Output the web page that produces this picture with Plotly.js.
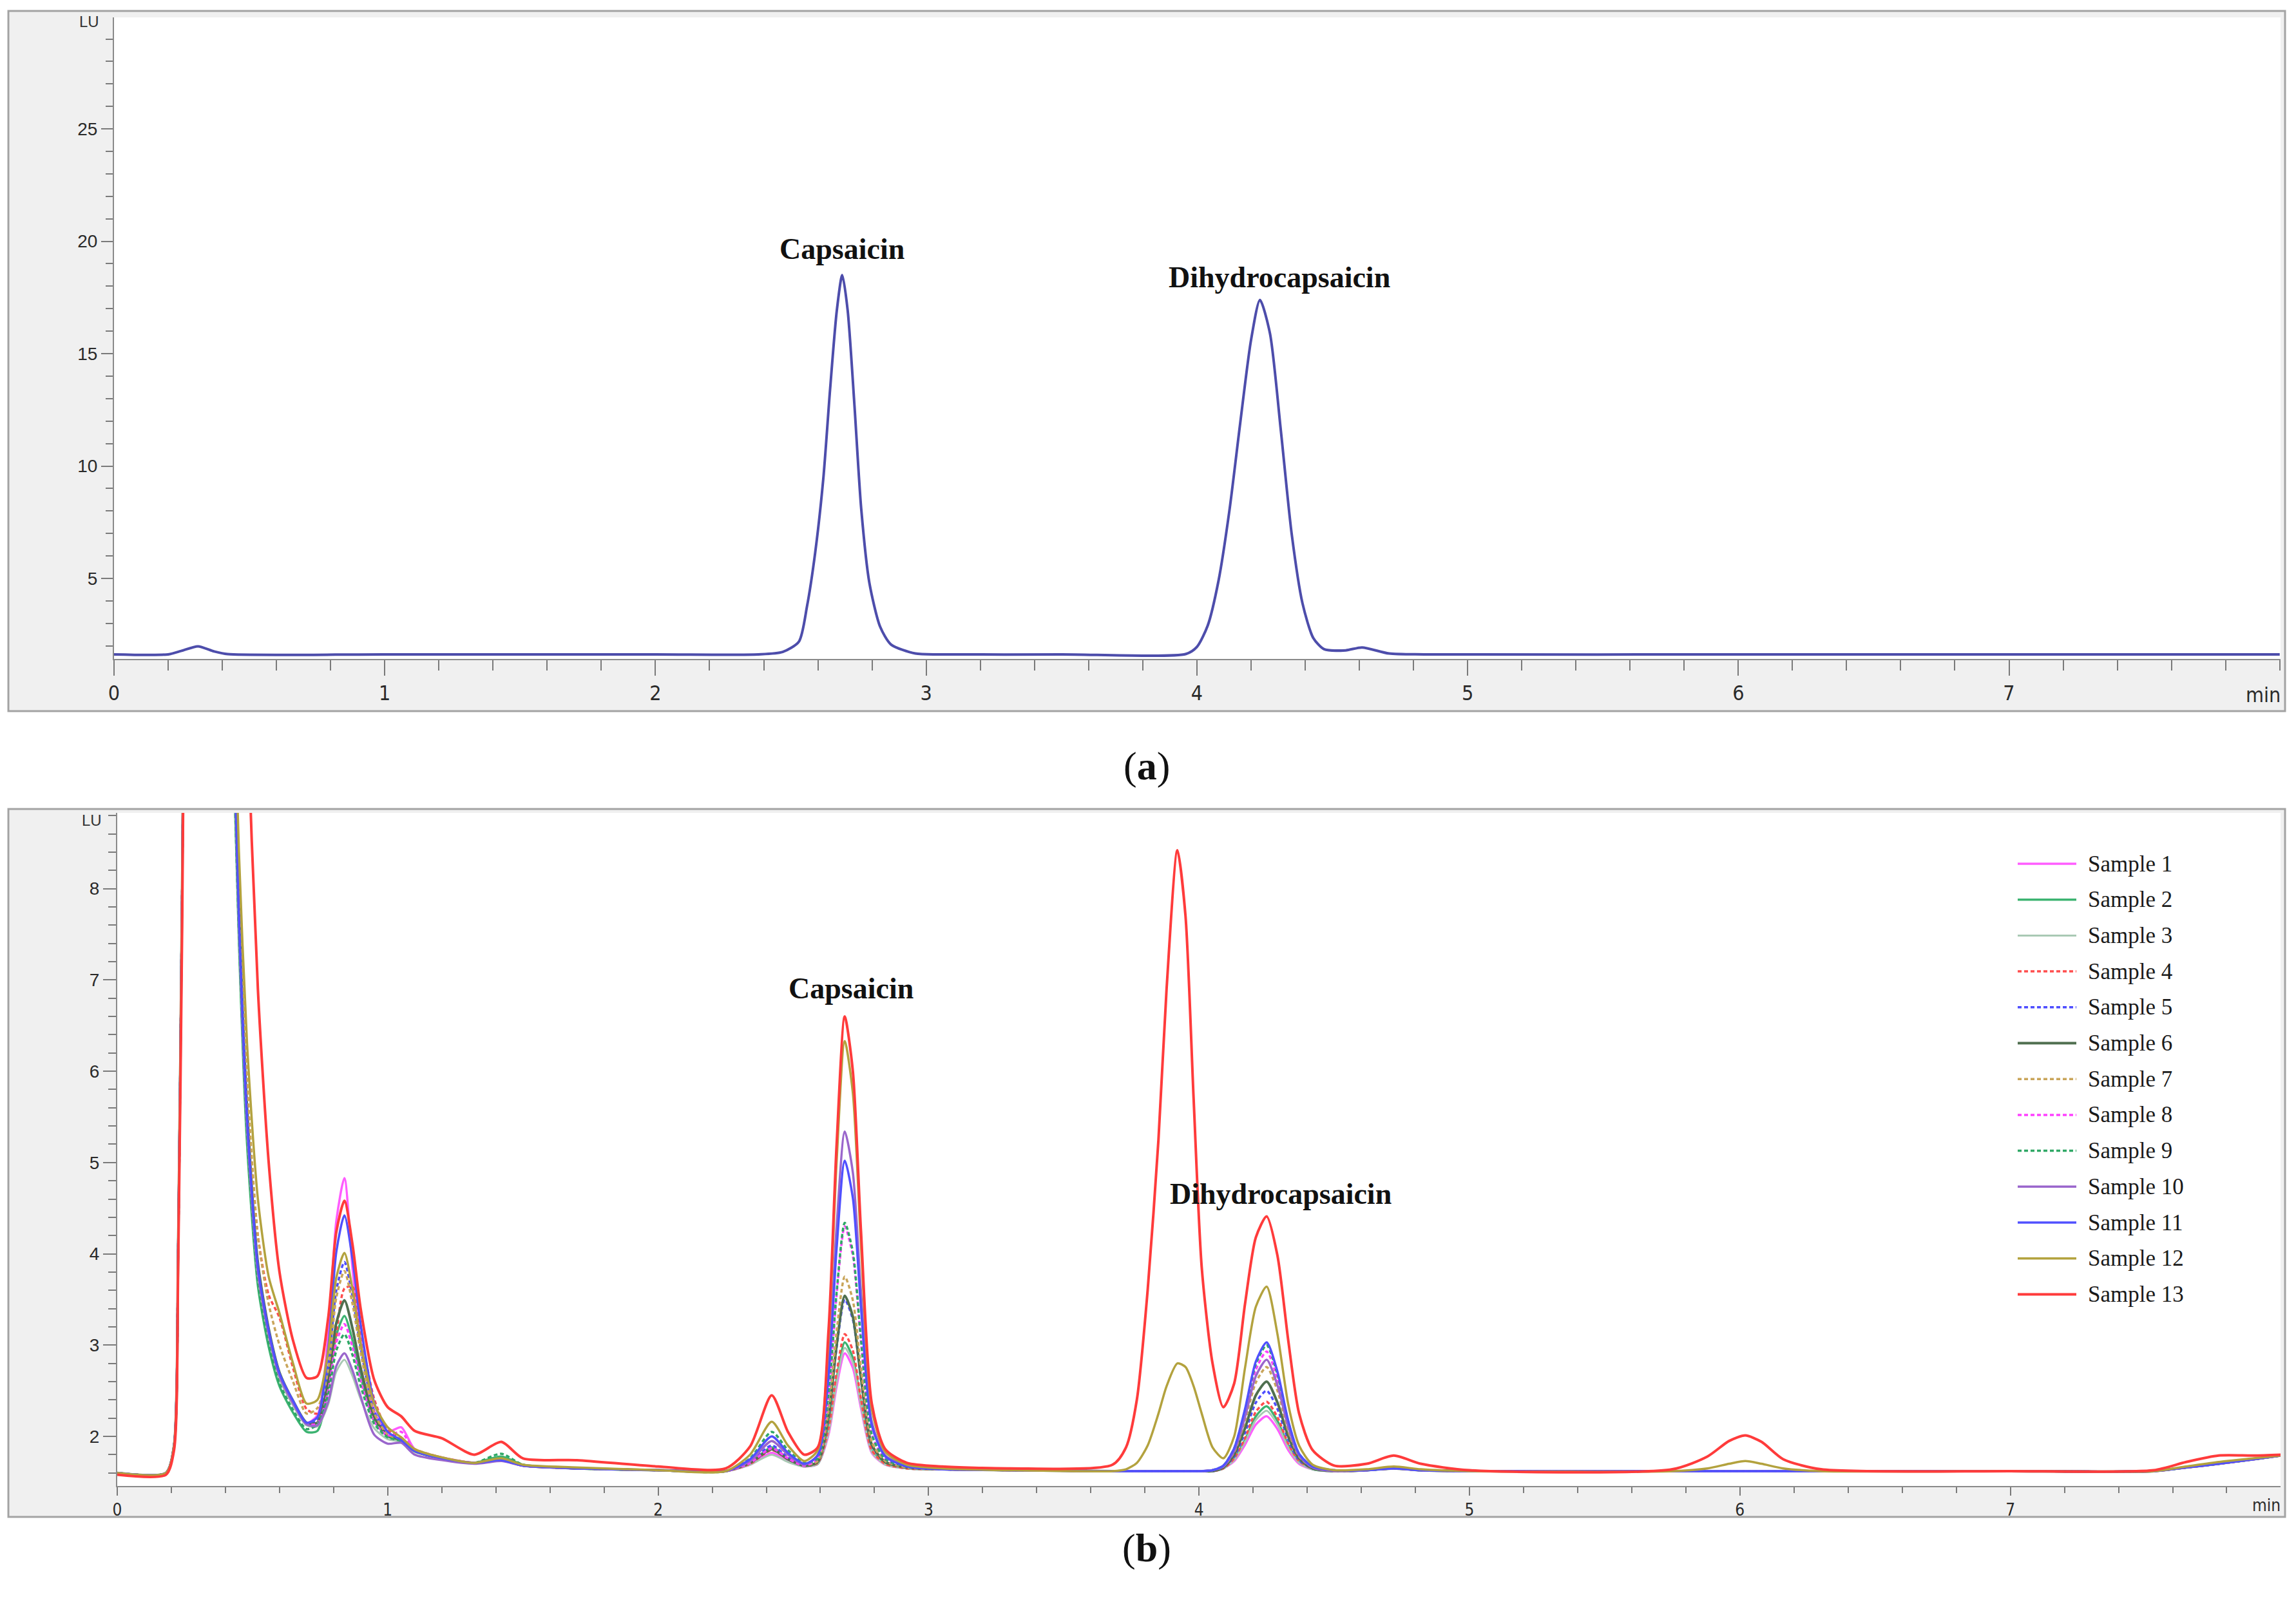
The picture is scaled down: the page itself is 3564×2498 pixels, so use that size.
<!DOCTYPE html>
<html><head><meta charset="utf-8">
<script src="https://cdn.plot.ly/plotly-3.0.1.min.js"></script>
<style>html,body{margin:0;padding:0;background:#fff;} #chart{width:3564px;height:2498px;}</style>
</head><body><div id="chart"></div>
<script>
// ================= DATA =================
// Panel (a): standard chromatogram
const timeA = [0, 0.20, 0.25, 0.31, 0.37, 0.42, 1.0, 2.0, 2.38, 2.47, 2.53, 2.56, 2.59, 2.62, 2.645, 2.67, 2.69, 2.71, 2.735, 2.76, 2.79, 2.83, 2.87, 2.96, 3.05, 3.5,
  3.96, 4.00, 4.04, 4.08, 4.12, 4.16, 4.20, 4.233, 4.27, 4.31, 4.35, 4.39, 4.43, 4.47, 4.55, 4.61, 4.71, 4.84, 6.0, 8.0];
const signalA = [1.62, 1.62, 1.78, 1.98, 1.75, 1.63, 1.62, 1.62, 1.62, 1.73, 2.19, 3.77, 6.14, 9.43, 13.4, 16.93, 18.5, 16.93, 12.72, 8.11, 4.82, 2.85, 2.06, 1.66, 1.62, 1.62,
  1.64, 1.95, 2.9, 4.9, 8.0, 11.9, 15.6, 17.39, 15.9, 11.6, 7.0, 3.9, 2.35, 1.85, 1.80, 1.93, 1.66, 1.62, 1.62, 1.62];

// Panel (b): samples (shared time axis)
const timeB = [0.00, 0.18, 0.21, 0.225, 0.24, 0.26, 0.33,
  0.42, 0.45, 0.48, 0.52, 0.56, 0.60, 0.65, 0.70,
  0.74, 0.78, 0.81, 0.84, 0.87, 0.90, 0.95, 1.00, 1.05, 1.10, 1.20, 1.32,
  1.42, 1.50, 1.70, 2.00, 2.25,
  2.34, 2.42, 2.48, 2.54, 2.59, 2.63, 2.66, 2.69, 2.72, 2.75, 2.79, 2.84, 2.92, 3.05, 3.30,
  3.68, 3.73, 3.77, 3.81, 3.85, 3.88, 3.92, 3.95, 3.98, 4.01, 4.05, 4.09, 4.13, 4.17, 4.21, 4.25, 4.29, 4.33, 4.37, 4.42, 4.50,
  4.62, 4.72, 4.82, 5.00, 5.75, 5.88, 5.96, 6.02, 6.08, 6.16, 6.30,
  7.00, 7.53, 7.65, 7.77, 7.90, 8.00];

const sample1 = [1.60,1.60,1.90,4.00,8.00,14.0,22.0,
  10.9,7.6,5.4,3.80,3.10,2.65,2.36,2.15,
  2.23,3.12,4.36,4.83,3.84,3.05,2.28,2.05,2.10,1.86,1.77,1.71,
  1.74,1.68,1.65,1.63,1.62,
  1.69,1.82,1.73,1.67,1.70,2.02,2.55,2.91,2.75,2.31,1.82,1.69,1.65,1.64,1.63,
  1.62,1.62,1.62,1.62,1.62,1.62,1.62,1.62,1.62,1.62,1.62,1.65,1.73,1.91,2.13,2.22,2.08,1.85,1.70,1.64,1.62,
  1.63,1.65,1.63,1.62,1.62,1.62,1.62,1.62,1.62,1.62,1.62,
  1.62,1.62,1.66,1.70,1.75,1.79];
const sample2 = [1.60,1.60,1.90,4.00,8.00,14.0,22.0,
  10.6,7.4,5.2,3.65,2.98,2.55,2.26,2.05,
  2.06,2.54,3.11,3.32,3.05,2.66,2.17,2.00,1.95,1.84,1.76,1.71,
  1.78,1.69,1.65,1.63,1.62,
  1.71,1.88,1.76,1.68,1.70,2.06,2.63,3.03,2.86,2.37,1.84,1.70,1.65,1.64,1.63,
  1.62,1.62,1.62,1.62,1.62,1.62,1.62,1.62,1.62,1.62,1.62,1.65,1.75,1.96,2.22,2.33,2.17,1.90,1.72,1.64,1.62,
  1.63,1.65,1.63,1.62,1.62,1.62,1.62,1.62,1.62,1.62,1.62,
  1.62,1.62,1.66,1.70,1.75,1.79];
const sample3 = [1.60,1.60,1.90,4.00,8.00,14.0,22.0,
  10.8,7.5,5.35,3.75,3.08,2.63,2.34,2.12,
  2.11,2.35,2.71,2.84,2.66,2.41,2.09,1.97,1.94,1.83,1.76,1.71,
  1.74,1.68,1.65,1.63,1.62,
  1.69,1.80,1.72,1.67,1.70,2.04,2.59,2.97,2.81,2.34,1.83,1.69,1.65,1.64,1.63,
  1.62,1.62,1.62,1.62,1.62,1.62,1.62,1.62,1.62,1.62,1.62,1.65,1.74,1.94,2.18,2.28,2.13,1.88,1.71,1.64,1.62,
  1.63,1.65,1.63,1.62,1.62,1.62,1.62,1.62,1.62,1.62,1.62,
  1.62,1.62,1.66,1.70,1.75,1.79];
const sample4 = [1.60,1.60,1.90,4.00,8.00,14.0,22.0,
  11.3,8.0,5.8,4.20,3.55,3.30,2.75,2.30,
  2.25,2.50,3.11,3.62,3.64,3.16,2.41,2.07,1.98,1.86,1.77,1.71,
  1.74,1.68,1.65,1.63,1.62,
  1.70,1.85,1.75,1.68,1.71,2.09,2.70,3.12,2.94,2.41,1.85,1.70,1.65,1.64,1.63,
  1.62,1.62,1.62,1.62,1.62,1.62,1.62,1.62,1.62,1.62,1.62,1.65,1.76,1.98,2.27,2.38,2.21,1.92,1.73,1.65,1.62,
  1.63,1.65,1.63,1.62,1.62,1.62,1.62,1.62,1.62,1.62,1.62,
  1.62,1.62,1.66,1.70,1.75,1.79];
const sample5 = [1.60,1.60,1.90,4.00,8.00,14.0,22.0,
  11.0,7.7,5.5,3.85,3.15,2.68,2.38,2.14,
  2.18,2.76,3.60,3.91,3.53,2.97,2.28,2.03,1.96,1.84,1.76,1.71,
  1.74,1.68,1.65,1.63,1.62,
  1.72,1.90,1.77,1.68,1.72,2.20,2.97,3.50,3.28,2.62,1.90,1.72,1.66,1.64,1.63,
  1.62,1.62,1.62,1.62,1.62,1.62,1.62,1.62,1.62,1.62,1.62,1.66,1.78,2.04,2.37,2.50,2.30,1.96,1.74,1.65,1.62,
  1.63,1.65,1.63,1.62,1.62,1.62,1.62,1.62,1.62,1.62,1.62,
  1.62,1.62,1.66,1.70,1.75,1.79];
const sample6 = [1.60,1.60,1.90,4.00,8.00,14.0,22.0,
  11.1,7.8,5.6,3.90,3.18,2.70,2.39,2.15,
  2.15,2.60,3.24,3.49,3.18,2.75,2.21,2.01,1.96,1.84,1.76,1.71,
  1.74,1.68,1.65,1.63,1.62,
  1.71,1.86,1.75,1.68,1.72,2.22,3.00,3.54,3.31,2.64,1.91,1.72,1.66,1.64,1.63,
  1.62,1.62,1.62,1.62,1.62,1.62,1.62,1.62,1.62,1.62,1.62,1.66,1.80,2.09,2.45,2.60,2.37,2.00,1.76,1.65,1.62,
  1.63,1.65,1.63,1.62,1.62,1.62,1.62,1.62,1.62,1.62,1.62,
  1.62,1.62,1.66,1.70,1.75,1.79];
const sample7 = [1.60,1.60,1.90,4.00,8.00,14.0,22.0,
  11.3,8.0,5.9,4.20,3.45,3.00,2.60,2.25,
  2.31,2.73,3.52,3.81,3.45,2.92,2.26,2.02,1.97,1.85,1.77,1.71,
  1.75,1.68,1.65,1.63,1.62,
  1.73,1.95,1.80,1.69,1.73,2.28,3.15,3.75,3.49,2.75,1.94,1.73,1.66,1.64,1.63,
  1.62,1.62,1.62,1.62,1.62,1.62,1.62,1.62,1.62,1.62,1.63,1.67,1.83,2.17,2.59,2.76,2.50,2.06,1.78,1.66,1.62,
  1.63,1.65,1.63,1.62,1.62,1.62,1.62,1.62,1.62,1.62,1.62,
  1.62,1.62,1.66,1.70,1.75,1.79];
const sample8 = [1.60,1.60,1.90,4.00,8.00,14.0,22.0,
  10.9,7.6,5.45,3.82,3.12,2.66,2.37,2.14,
  2.14,2.50,3.03,3.23,2.98,2.61,2.16,2.01,2.05,1.85,1.76,1.71,
  1.74,1.68,1.65,1.63,1.62,
  1.71,1.87,1.76,1.68,1.76,2.45,3.55,4.30,3.98,3.04,2.02,1.75,1.67,1.64,1.63,
  1.62,1.62,1.62,1.62,1.62,1.62,1.62,1.62,1.62,1.62,1.63,1.68,1.86,2.25,2.73,2.93,2.63,2.13,1.80,1.67,1.63,
  1.63,1.65,1.63,1.62,1.62,1.62,1.62,1.62,1.62,1.62,1.62,
  1.62,1.62,1.66,1.70,1.75,1.79];
const sample9 = [1.60,1.60,1.90,4.00,8.00,14.0,22.0,
  10.7,7.5,5.3,3.70,3.02,2.58,2.29,2.08,
  2.13,2.46,2.94,3.12,2.89,2.55,2.14,1.99,1.95,1.84,1.76,1.71,
  1.81,1.69,1.65,1.63,1.62,
  1.76,2.05,1.85,1.71,1.76,2.46,3.58,4.34,4.02,3.06,2.02,1.75,1.67,1.64,1.63,
  1.62,1.62,1.62,1.62,1.62,1.62,1.62,1.62,1.62,1.62,1.63,1.68,1.87,2.28,2.79,3.00,2.68,2.16,1.81,1.67,1.63,
  1.63,1.65,1.63,1.62,1.62,1.62,1.62,1.62,1.62,1.62,1.62,
  1.62,1.62,1.66,1.70,1.75,1.79];
const sample10 = [1.60,1.60,1.90,4.00,8.00,14.0,22.0,
  10.9,7.6,5.4,3.80,3.12,2.66,2.36,2.13,
  2.12,2.38,2.77,2.91,2.72,2.44,2.02,1.92,1.93,1.80,1.74,1.70,
  1.73,1.68,1.65,1.63,1.62,
  1.73,1.95,1.80,1.69,1.80,2.76,4.30,5.34,4.89,3.58,2.16,1.79,1.68,1.64,1.63,
  1.62,1.62,1.62,1.62,1.62,1.62,1.62,1.62,1.62,1.62,1.63,1.67,1.84,2.21,2.66,2.84,2.56,2.10,1.79,1.66,1.62,
  1.63,1.65,1.63,1.62,1.62,1.62,1.62,1.62,1.62,1.62,1.62,
  1.62,1.62,1.66,1.70,1.75,1.79];
const sample11 = [1.60,1.60,1.90,4.00,8.00,14.0,22.0,
  11.0,7.7,5.5,3.86,3.16,2.69,2.39,2.15,
  2.21,2.96,4.02,4.42,3.94,3.23,2.37,2.05,1.96,1.84,1.76,1.71,
  1.74,1.68,1.65,1.63,1.62,
  1.75,2.00,1.82,1.70,1.79,2.66,4.06,5.02,4.61,3.41,2.12,1.78,1.67,1.64,1.63,
  1.62,1.62,1.62,1.62,1.62,1.62,1.62,1.62,1.62,1.62,1.63,1.68,1.87,2.30,2.82,3.03,2.71,2.17,1.81,1.67,1.63,
  1.63,1.65,1.63,1.62,1.62,1.62,1.62,1.62,1.62,1.62,1.62,
  1.62,1.62,1.66,1.70,1.75,1.79];
const sample12 = [1.60,1.60,1.90,4.00,8.00,14.0,22.0,
  11.5,8.4,6.3,4.60,3.75,3.35,2.80,2.36,
  2.40,2.93,3.74,4.01,3.61,3.02,2.36,2.10,1.99,1.86,1.77,1.71,
  1.76,1.69,1.66,1.63,1.62,
  1.80,2.16,1.90,1.73,1.85,3.06,5.01,6.33,5.76,4.10,2.30,1.83,1.69,1.65,1.63,
  1.62,1.64,1.71,1.90,2.25,2.55,2.80,2.76,2.55,2.25,1.88,1.76,2.00,2.75,3.42,3.64,3.12,2.35,1.90,1.69,1.63,
  1.64,1.67,1.64,1.62,1.62,1.65,1.70,1.73,1.70,1.65,1.62,
  1.62,1.62,1.67,1.72,1.76,1.79];
const sample13 = [1.58,1.58,1.85,3.80,7.60,14.0,24.0,
  18.0,14.0,10.0,6.9,5.0,3.8,3.05,2.64,
  2.66,3.30,4.24,4.58,4.10,3.40,2.62,2.32,2.22,2.06,1.98,1.80,
  1.94,1.76,1.74,1.67,1.65,
  1.89,2.45,2.05,1.80,1.88,3.16,5.20,6.60,6.00,4.25,2.36,1.86,1.71,1.67,1.65,
  1.69,1.88,2.40,3.60,5.25,6.90,8.42,7.70,5.70,3.85,2.80,2.32,2.58,3.45,4.18,4.41,3.98,3.05,2.25,1.85,1.68,
  1.70,1.79,1.70,1.63,1.64,1.78,1.95,2.01,1.94,1.75,1.64,
  1.62,1.63,1.72,1.79,1.79,1.80];

const sampleNames = ['Sample 1','Sample 2','Sample 3','Sample 4','Sample 5','Sample 6','Sample 7','Sample 8','Sample 9','Sample 10','Sample 11','Sample 12','Sample 13'];
const xTickVals = [0, 1, 2, 3, 4, 5, 6, 7];
const xTickText = ['0', '1', '2', '3', '4', '5', '6', '7'];
const yTickValsA = [5, 10, 15, 20, 25];
const yTickValsB = [2, 3, 4, 5, 6, 7, 8];
const peakNames = ['Capsaicin', 'Dihydrocapsaicin'];
const panelNames = ['a', 'b'];
const unitY = 'LU';
const unitX = 'min';

// ================= STYLES =================
const sampleColors = ['#ff5cff','#3cb371','#a9c9b4','#ff4d4d','#4d4dff','#4f6f4f','#c9a55a','#ff40ff','#2fa866','#9a66cc','#5050ff','#b3a23e','#ff3b3b'];
const sampleDash = ['solid','solid','solid','6px,4px','6px,4px','solid','6px,4px','6px,4px','6px,4px','solid','solid','solid','solid'];
const sampleWidth = [3.5,3.5,3,3.5,3.5,4,3.5,3.5,3.5,3.5,3.5,3.5,4];

const W = 3564, H = 2498;
const px = v => v / W;
const py = v => 1 - v / H;

const tickFontX = (s) => ({family: 'Liberation Sans Narrow, Arial Narrow, DejaVu Sans Condensed, sans-serif', size: s, color: '#2a2a2a'});
const tickFontY = {family: 'Liberation Sans, Arial, sans-serif', size: 28, color: '#2a2a2a'};
const serif = 'Liberation Serif, Times New Roman, serif';

const sampleSeries = [sample1,sample2,sample3,sample4,sample5,sample6,sample7,sample8,sample9,sample10,sample11,sample12,sample13];

const traces = [{
  x: timeA, y: signalA, type: 'scatter', mode: 'lines', xaxis: 'x', yaxis: 'y',
  line: {color: '#4d4dab', width: 4, shape: 'spline', smoothing: 0.7},
  showlegend: false, hoverinfo: 'skip', name: 'Standard'
}];
sampleSeries.forEach((ys, i) => {
  traces.push({
    x: timeB, y: ys, type: 'scatter', mode: 'lines', xaxis: 'x2', yaxis: 'y2',
    name: sampleNames[i],
    line: {color: sampleColors[i], width: sampleWidth[i], dash: sampleDash[i], shape: 'spline', smoothing: 0.7},
    showlegend: false, hoverinfo: 'skip'
  });
});

const axisCommon = {
  showgrid: false, zeroline: false, showline: true, linecolor: '#8a8a8a', linewidth: 2,
  ticks: 'outside', tickcolor: '#7a7a7a', tickwidth: 2, fixedrange: true
};

const layout = {
  width: W, height: H,
  margin: {l: 0, r: 0, t: 0, b: 0, pad: 0},
  paper_bgcolor: '#ffffff', plot_bgcolor: '#ffffff',
  showlegend: false,
  xaxis: Object.assign({}, axisCommon, {
    domain: [px(177), px(3540)], range: [0, 8.003], anchor: 'y',
    tickmode: 'array', tickvals: xTickVals, ticktext: xTickText, ticklen: 24,
    minor: {tick0: 0, dtick: 0.2, ticks: 'outside', ticklen: 16, tickcolor: '#7a7a7a', tickwidth: 2, showgrid: false},
    tickfont: tickFontX(32)
  }),
  yaxis: Object.assign({}, axisCommon, {
    domain: [py(1023), py(27)], range: [1.418, 29.96], anchor: 'x',
    tickmode: 'array', tickvals: yTickValsA, ticklen: 18,
    minor: {tick0: 0, dtick: 1, ticks: 'outside', ticklen: 11, tickcolor: '#7a7a7a', tickwidth: 2, showgrid: false},
    tickfont: tickFontY
  }),
  xaxis2: Object.assign({}, axisCommon, {
    domain: [px(182), px(3540)], range: [0, 7.999], anchor: 'y2',
    tickmode: 'array', tickvals: xTickVals, ticktext: xTickText, ticklen: 13,
    minor: {tick0: 0, dtick: 0.2, ticks: 'outside', ticklen: 9, tickcolor: '#7a7a7a', tickwidth: 2, showgrid: false},
    tickfont: tickFontX(26)
  }),
  yaxis2: Object.assign({}, axisCommon, {
    domain: [py(2307), py(1262)], range: [1.457, 8.83], anchor: 'x2',
    tickmode: 'array', tickvals: yTickValsB, ticklen: 20,
    minor: {tick0: 0, dtick: 0.2, ticks: 'outside', ticklen: 12, tickcolor: '#7a7a7a', tickwidth: 2, showgrid: false},
    tickfont: tickFontY
  }),
  shapes: [
    {type: 'rect', xref: 'paper', yref: 'paper', x0: px(13), x1: px(3547), y0: py(1104), y1: py(17), fillcolor: '#f0f0f0', line: {color: '#a3a3a3', width: 3}, layer: 'below'},
    {type: 'rect', xref: 'paper', yref: 'paper', x0: px(177), x1: px(3540), y0: py(1023), y1: py(27), fillcolor: '#ffffff', line: {width: 0}, layer: 'below'},
    {type: 'rect', xref: 'paper', yref: 'paper', x0: px(13), x1: px(3547), y0: py(2355), y1: py(1256), fillcolor: '#f0f0f0', line: {color: '#a3a3a3', width: 3}, layer: 'below'},
    {type: 'rect', xref: 'paper', yref: 'paper', x0: px(182), x1: px(3540), y0: py(2307), y1: py(1262), fillcolor: '#ffffff', line: {width: 0}, layer: 'below'}
  ],
  annotations: [
    {xref: 'x', yref: 'y', x: 2.689, y: 19.67, text: '<b>' + peakNames[0] + '</b>', showarrow: false, font: {family: serif, size: 46, color: '#111'}},
    {xref: 'x', yref: 'y', x: 4.304, y: 18.41, text: '<b>' + peakNames[1] + '</b>', showarrow: false, font: {family: serif, size: 46, color: '#111'}},
    {xref: 'x2', yref: 'y2', x: 2.712, y: 6.91, text: '<b>' + peakNames[0] + '</b>', showarrow: false, font: {family: serif, size: 46, color: '#111'}},
    {xref: 'x2', yref: 'y2', x: 4.302, y: 4.66, text: '<b>' + peakNames[1] + '</b>', showarrow: false, font: {family: serif, size: 46, color: '#111'}},
    {xref: 'paper', yref: 'paper', x: px(1780), y: py(1189), text: '(<b>' + panelNames[0] + '</b>)', showarrow: false, font: {family: serif, size: 62, color: '#111'}},
    {xref: 'paper', yref: 'paper', x: px(1780), y: py(2440), text: '(<b>' + panelNames[1] + '</b>)', showarrow: false, font: {family: serif, size: 62, color: '#111'}},
    {xref: 'paper', yref: 'paper', x: px(3542), y: py(1079), xanchor: 'right', yanchor: 'middle', text: unitX, showarrow: false, font: tickFontX(32)},
    {xref: 'paper', yref: 'paper', x: px(3542), y: py(2337), xanchor: 'right', yanchor: 'middle', text: unitX, showarrow: false, font: tickFontX(26)},
    {xref: 'paper', yref: 'paper', x: px(156), y: py(18), xanchor: 'right', yanchor: 'top', text: unitY, showarrow: false, font: {family: 'Liberation Sans, Arial, sans-serif', size: 24, color: '#333'}},
    {xref: 'paper', yref: 'paper', x: px(160), y: py(1258), xanchor: 'right', yanchor: 'top', text: unitY, showarrow: false, font: {family: 'Liberation Sans, Arial, sans-serif', size: 24, color: '#333'}}
  ]
};

// Legend (panel b) drawn from the sample names and their styles
sampleNames.forEach((nm, i) => {
  const yc = 1341 + i * 55.7;
  layout.shapes.push({type: 'line', xref: 'paper', yref: 'paper', x0: px(3132), x1: px(3223), y0: py(yc), y1: py(yc),
    line: {color: sampleColors[i], width: sampleWidth[i], dash: sampleDash[i]}, layer: 'above'});
  layout.annotations.push({xref: 'paper', yref: 'paper', x: px(3239), y: py(yc), xanchor: 'left', yanchor: 'middle',
    text: nm, showarrow: false, font: {family: serif, size: 35, color: '#1a1a1a'}});
});

Plotly.newPlot('chart', traces, layout, {staticPlot: true, displayModeBar: false});
</script>
</body></html>
